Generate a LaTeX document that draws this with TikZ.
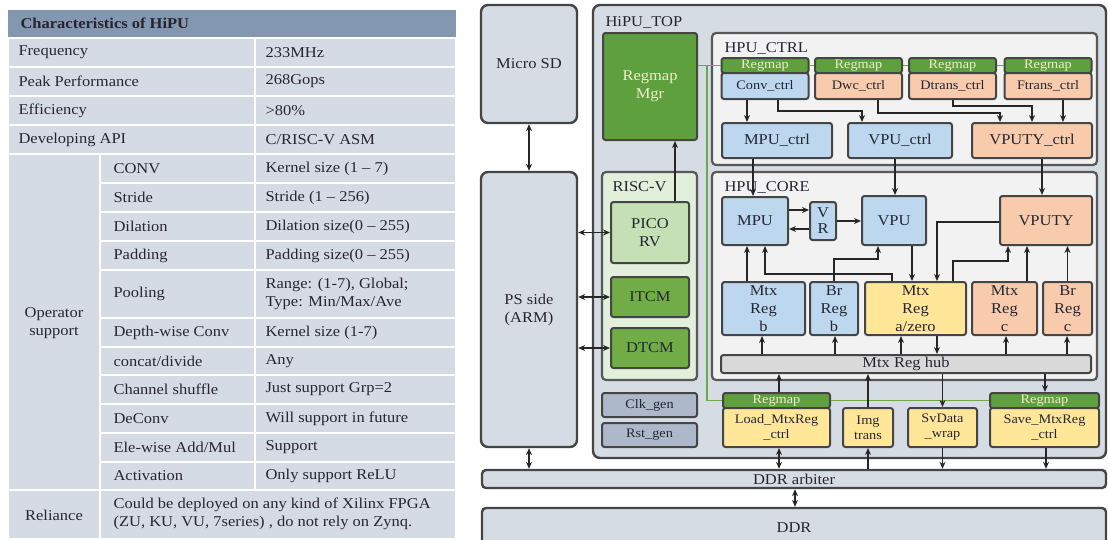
\documentclass[tikz,border=0pt]{standalone}
\usepackage{fontspec}
\setmainfont{Liberation Serif}[FakeStretch=1.1]
\usetikzlibrary{arrows.meta}
\definecolor{cellc}{HTML}{D5DBE5}
\definecolor{headc}{HTML}{8497B0}
\definecolor{txtc}{HTML}{262632}
\definecolor{linec}{HTML}{454545}
\definecolor{outerc}{HTML}{D6DCE4}
\definecolor{innerc}{HTML}{F2F2F2}
\definecolor{riscc}{HTML}{E2EFDA}
\definecolor{picoc}{HTML}{C5E0B4}
\definecolor{tcmc}{HTML}{70AD47}
\definecolor{mapc}{HTML}{5EA03D}
\definecolor{genc}{HTML}{ADB9CA}
\definecolor{bluec}{HTML}{BDD7EE}
\definecolor{orangec}{HTML}{F8CBAD}
\definecolor{yellowc}{HTML}{FFE699}
\definecolor{hubc}{HTML}{D9D9D9}
\definecolor{greenl}{HTML}{6AAA4A}
\definecolor{maptxt}{HTML}{F0EFC8}

\tikzset{
  txt/.style={font=\fontsize{15}{18}\selectfont, text=txtc},
  captxt/.style={font=\fontsize{13}{15}\selectfont, text=txtc},
  blk/.style={draw=linec, line width=2pt, rounded corners=2.5pt, align=center, inner sep=0pt, txt},
  bigbox/.style={draw=linec, line width=2.4pt, rounded corners=7pt, fill=outerc, align=center, inner sep=0pt, txt},
  panel/.style={draw=linec!90, line width=2.2pt, rounded corners=4pt, inner sep=0pt},
  regbar/.style={blk, fill=mapc, captxt, text=maptxt, minimum height=15pt},
  arr/.style={-{Stealth[length=7pt,width=6pt]}, line width=1.8pt, draw=black!85},
  dbl/.style={{Stealth[length=7pt,width=6pt]}-{Stealth[length=7pt,width=6pt]}, line width=1.8pt, draw=black!85},
  gline/.style={draw=greenl, line width=1.8pt},
}

\begin{document}
\begin{tikzpicture}[x=1pt,y=-1pt]
\useasboundingbox (0,0) rectangle (1108,539);

% table
\fill[headc] (8,10) rectangle (456,37);
\node[anchor=west, font=\bfseries\fontsize{15}{18}\selectfont, text=txtc] (title) at (17,23.5) {Characteristics of HiPU};
\foreach \ya/\yb/\lab/\val [count=\i] in {38/67/Frequency/233MHz, 67/96/Peak Performance/268Gops, 96/125/Efficiency/{>80\%}, 125/154/Developing API/{C/RISC-V ASM}}{
  \filldraw[fill=cellc, draw=white, line width=2pt] (8,\ya) rectangle (255,\yb) (255,\ya) rectangle (456,\yb);
  \node[txt, anchor=west] (lab\i) at (15,{(\ya+\yb)/2}) {\lab};
  \node[txt, anchor=west] (val\i) at (262,{(\ya+\yb)/2}) {\val};
}
\filldraw[fill=cellc, draw=white, line width=2pt] (8,154) rectangle (100,490);
\node[txt, align=center] (opsup) at (54,323) {Operator\\support};
\foreach \ya/\yb/\lab/\val [count=\i] in {
  154/183/CONV/{Kernel size (1 – 7)},
  183/212/Stride/{Stride (1 – 256)},
  212/241/Dilation/{Dilation size(0 – 255)},
  241/270/Padding/{Padding size(0 – 255)},
  270/318/Pooling/{Range: (1-7), Global;\\Type: Min/Max/Ave},
  318/347/Depth-wise Conv/{Kernel size (1-7)},
  347/375/{concat/divide}/Any,
  375/404/Channel shuffle/{Just support Grp=2},
  404/433/DeConv/{Will support in future},
  433/462/{Ele-wise Add/Mul}/Support,
  462/490/Activation/{Only support ReLU}}{
  \filldraw[fill=cellc, draw=white, line width=2pt] (100,\ya) rectangle (255,\yb) (255,\ya) rectangle (456,\yb);
  \node[txt, anchor=west] (op\i) at (110,{(\ya+\yb)/2}) {\lab};
  \node[txt, anchor=west, align=left] (opv\i) at (262,{(\ya+\yb)/2}) {\val};
}
\filldraw[fill=cellc, draw=white, line width=2pt] (8,490) rectangle (100,539) (100,490) rectangle (456,539);
\node[txt] (rel) at (54,515) {Reliance};
\node[txt, anchor=west, align=left] (relv) at (110,514) {Could be deployed on any kind of Xilinx FPGA\\(ZU, KU, VU, 7series) , do not rely on Zynq.};

% block diagram
\node[bigbox, minimum width=96pt, minimum height=118pt] (microsd) at (529,64) {Micro SD};
\node[bigbox, minimum width=96pt, minimum height=275pt] (ps) at (529,309.5) {PS side\\(ARM)};
\node[bigbox, minimum width=513pt, minimum height=453pt] (top) at (849.5,231.5) {};
\node[txt, anchor=west] (toplab) at (602,22) {HiPU\_TOP};
\node[panel, fill=innerc, minimum width=385pt, minimum height=132pt] (ctrl) at (904.5,99) {};
\node[txt, anchor=west] (ctrllab) at (721,48) {HPU\_CTRL};
\node[panel, fill=innerc, minimum width=385pt, minimum height=208pt] (core) at (904.5,276) {};
\node[txt, anchor=west] (corelab) at (721,187) {HPU\_CORE};
\node[panel, fill=riscc, minimum width=95pt, minimum height=208pt] (riscv) at (649.5,276) {};
\node[txt, anchor=west] (riscvlab) at (609,187) {RISC-V};

\node[blk, fill=mapc, text=maptxt, minimum width=94pt, minimum height=107pt] (regmgr) at (650,86.5) {Regmap\\Mgr};
\node[blk, fill=picoc, minimum width=78pt, minimum height=61pt] (pico) at (650,232.5) {PICO\\RV};
\node[blk, fill=tcmc, minimum width=78pt, minimum height=40pt] (itcm) at (650,297) {ITCM};
\node[blk, fill=tcmc, minimum width=78pt, minimum height=40pt] (dtcm) at (650,348) {DTCM};
\node[blk, fill=genc, captxt, minimum width=95pt, minimum height=24pt] (clk) at (649.5,405) {Clk\_gen};
\node[blk, fill=genc, captxt, minimum width=95pt, minimum height=24pt] (rst) at (649.5,435) {Rst\_gen};

\node[regbar, minimum width=87pt] (convmap) at (765,65.5) {Regmap};
\node[blk, fill=bluec, captxt, minimum width=87pt, minimum height=26pt] (conv) at (765,86) {Conv\_ctrl};
\node[regbar, minimum width=87pt] (dwcmap) at (858.5,65.5) {Regmap};
\node[blk, fill=orangec, captxt, minimum width=87pt, minimum height=26pt] (dwc) at (858.5,86) {Dwc\_ctrl};
\node[regbar, minimum width=87pt] (dtransmap) at (952.5,65.5) {Regmap};
\node[blk, fill=orangec, captxt, minimum width=87pt, minimum height=26pt] (dtrans) at (952.5,86) {Dtrans\_ctrl};
\node[regbar, minimum width=87pt] (ftransmap) at (1048,65.5) {Regmap};
\node[blk, fill=orangec, captxt, minimum width=87pt, minimum height=26pt] (ftrans) at (1048,86) {Ftrans\_ctrl};

\node[blk, fill=bluec, minimum width=110pt, minimum height=35pt] (mpuctrl) at (777,140.5) {MPU\_ctrl};
\node[blk, fill=bluec, minimum width=104pt, minimum height=35pt] (vpuctrl) at (900,140.5) {VPU\_ctrl};
\node[blk, fill=orangec, minimum width=120pt, minimum height=35pt] (vputyctrl) at (1032,140.5) {VPUTY\_ctrl};

\node[blk, fill=bluec, minimum width=66pt, minimum height=48pt] (mpu) at (755,221) {MPU};
\node[blk, fill=bluec, minimum width=26pt, minimum height=38pt, font=\fontsize{15}{16}\selectfont] (vr) at (823,221) {V\\R};
\node[blk, fill=bluec, minimum width=64pt, minimum height=49pt] (vpu) at (894,220.5) {VPU};
\node[blk, fill=orangec, minimum width=92pt, minimum height=49pt] (vputy) at (1046,220.5) {VPUTY};

\node[blk, fill=bluec, minimum width=83pt, minimum height=53pt] (mtxb) at (763.5,308.5) {Mtx\\Reg\\b};
\node[blk, fill=bluec, minimum width=48pt, minimum height=53pt] (brb) at (834,308.5) {Br\\Reg\\b};
\node[blk, fill=yellowc, minimum width=101pt, minimum height=53pt] (mtxa) at (915.5,308.5) {Mtx\\Reg\\a/zero};
\node[blk, fill=orangec, minimum width=65pt, minimum height=53pt] (mtxc) at (1004.5,308.5) {Mtx\\Reg\\c};
\node[blk, fill=orangec, minimum width=49pt, minimum height=53pt] (brc) at (1067.5,308.5) {Br\\Reg\\c};
\node[blk, fill=hubc, minimum width=370pt, minimum height=18pt] (hub) at (906,364) {Mtx Reg hub};

\node[regbar, minimum width=107pt] (loadmap) at (776.5,400.5) {Regmap};
\node[blk, fill=yellowc, captxt, minimum width=107pt, minimum height=39pt] (load) at (776.5,427.5) {Load\_MtxReg\\\_ctrl};
\node[blk, fill=yellowc, captxt, minimum width=50pt, minimum height=39pt] (img) at (868,427.5) {Img\\trans};
\node[blk, fill=yellowc, captxt, minimum width=69pt, minimum height=39pt] (svdata) at (942.5,427.5) {SvData\\\_wrap};
\node[regbar, minimum width=109pt] (savemap) at (1044.5,400.5) {Regmap};
\node[blk, fill=yellowc, captxt, minimum width=109pt, minimum height=39pt] (save) at (1044.5,427.5) {Save\_MtxReg\\\_ctrl};

\node[bigbox, rounded corners=4pt, minimum width=624pt, minimum height=18pt] (arbiter) at (794,479) {DDR arbiter};
\node[bigbox, rounded corners=4pt, minimum width=624pt, minimum height=40pt] (ddr) at (794,528) {DDR};

\coordinate (gsplit) at (707,65.5);
\draw[gline] (regmgr.east |- convmap.west) -- (convmap.west);
\draw[gline] (convmap.east) -- (dwcmap.west) (dwcmap.east) -- (dtransmap.west) (dtransmap.east) -- (ftransmap.west);
\draw[gline] (gsplit) |- (loadmap.west);
\draw[gline] (loadmap.east) -- (savemap.west);

\draw[dbl] (microsd) -- (ps);
\draw[dbl] (ps.south) -- (ps.south |- arbiter.north);
\draw[dbl] (ps.east |- pico.west) -- (pico.west);
\draw[dbl] (ps.east |- itcm.west) -- (itcm.west);
\draw[dbl] (ps.east |- dtcm.west) -- (dtcm.west);
\draw[arr] (pico.north -| 675,0) -- (regmgr.south -| 675,0);

\draw[arr] (conv.south -| 747,0) -- (mpuctrl.north -| 747,0);
\draw[arr] (conv.south -| 778,0) -- ++(0,11) -| (vpuctrl.north -| 862,0);
\draw[arr] (dwc.south -| 878,0) -- ++(0,13) -| (vputyctrl.north -| 1000,0);
\draw[arr] (dtrans.south -| 953,0) -- ++(0,6) -| (vputyctrl.north -| 1032,0);
\draw[arr] (ftrans.south -| 1063,0) -- (vputyctrl.north -| 1063,0);
\draw[arr] (mpuctrl.south -| 753,0) -- (mpu.north -| 753,0);
\draw[arr] (vpuctrl.south -| 895,0) -- (vpu.north -| 895,0);
\draw[arr] (vputyctrl.south -| 1042,0) -- (vputy.north -| 1042,0);

\draw[arr] (mpu.east |- 0,210) -- (vr.west |- 0,210);
\draw[arr] (vr.west |- 0,229) -- (mpu.east |- 0,229);
\draw[arr] (vr.east) -- (vpu.west |- vr.east);
\draw[arr] (mtxb.north -| 747,0) -- (mpu.south -| 747,0);
\draw[arr] (mtxa.north -| 892,0) -- ++(0,-7) -| (mpu.south -| 765,0);
\draw[arr] (brb.north -| 834,0) -- ++(0,-22) -| (vpu.south -| 878,0);
\draw[arr] (vpu.south -| 912,0) -- (mtxa.north -| 912,0);
\draw[arr] (vputy.west |- 0,222) -| (mtxa.north -| 937,0);
\draw[arr] (mtxa.north -| 953,0) -- ++(0,-20) -| (vputy.south -| 1008,0);
\draw[arr] (mtxc.north -| 1027,0) -- (vputy.south -| 1027,0);
\draw[arr] (brc) -- (brc |- vputy.south);

\draw[arr] (hub.north -| 762,0) -- (mtxb.south -| 762,0);
\draw[arr] (hub.north -| 835,0) -- (brb.south -| 835,0);
\draw[arr] (hub.north -| 901,0) -- (mtxa.south -| 901,0);
\draw[arr] (mtxa.south -| 937,0) -- (hub.north -| 937,0);
\draw[arr] (hub.north -| 1006,0) -- (mtxc.south -| 1006,0);
\draw[arr] (hub.north -| 1067,0) -- (brc.south -| 1067,0);
\draw[arr] (loadmap.north -| 779,0) -- (hub.south -| 779,0);
\draw[arr] (img.north) -- (hub.south -| img.north);
\draw[arr] (hub.south -| svdata.north) -- (svdata.north);
\draw[arr] (hub.south -| 1045,0) -- (savemap.north -| 1045,0);

\draw[dbl] (load.south -| 779,0) -- (arbiter.north -| 779,0);
\draw[arr] (arbiter.north -| img.south) -- (img.south);
\draw[arr] (svdata.south) -- (arbiter.north -| svdata.south);
\draw[arr] (save.south -| 1046,0) -- (arbiter.north -| 1046,0);
\draw[dbl] (arbiter.south -| 795,0) -- (ddr.north -| 795,0);
\end{tikzpicture}
\end{document}
